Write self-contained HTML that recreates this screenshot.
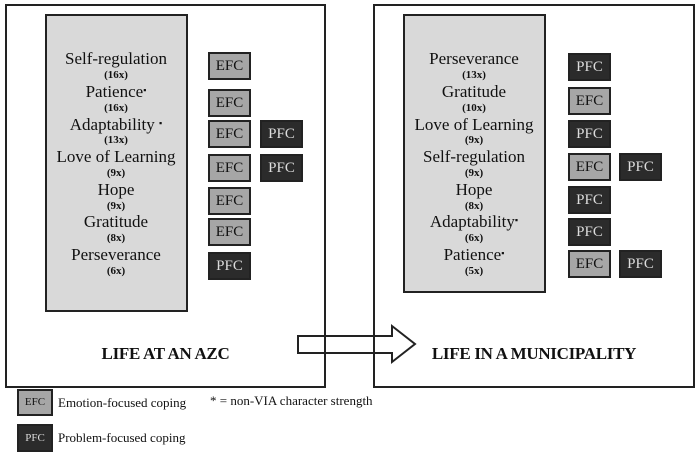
<!DOCTYPE html>
<html><head><style>
body{margin:0;width:697px;height:454px;background:#fff;position:relative;overflow:hidden;font-family:"Liberation Serif",serif;color:#111}
div{position:absolute;box-sizing:border-box}
.panel{border:2px solid #222;background:#fff}
.gray{background:#d9d9d9;border:2px solid #222}
.b{width:43px;height:28px;border:2px solid #222;font-size:15px;line-height:24px;text-align:center}
.e{background:#a6a6a6;color:#111}
.p{background:#2b2b2b;color:#ddd}
.n{width:160px;text-align:center;font-size:17px;line-height:18px;white-space:nowrap}
.c{width:160px;text-align:center;font-size:11px;font-weight:bold;line-height:12px}
.t{font-size:17px;font-weight:bold;text-align:center;letter-spacing:-0.3px}
.lg{font-size:13px}
.s{font-size:9px;line-height:0;position:relative;top:-4px}
</style></head><body>
<div class="panel" style="left:5px;top:4px;width:321px;height:384px"></div>
<div class="panel" style="left:373px;top:4px;width:322px;height:384px"></div>
<div class="gray" style="left:45px;top:14px;width:143px;height:298px"></div>
<div class="gray" style="left:403px;top:14px;width:143px;height:279px"></div>

<div class="n" style="left:36px;top:50px">Self-regulation</div><div class="c" style="left:36px;top:69px">(16x)</div>
<div class="n" style="left:36px;top:83px">Patience<span class="s">▪</span></div><div class="c" style="left:36px;top:102px">(16x)</div>
<div class="n" style="left:36px;top:116px">Adaptability <span class="s">▪</span></div><div class="c" style="left:36px;top:134px">(13x)</div>
<div class="n" style="left:36px;top:148px">Love of Learning</div><div class="c" style="left:36px;top:167px">(9x)</div>
<div class="n" style="left:36px;top:181px">Hope</div><div class="c" style="left:36px;top:200px">(9x)</div>
<div class="n" style="left:36px;top:213px">Gratitude</div><div class="c" style="left:36px;top:232px">(8x)</div>
<div class="n" style="left:36px;top:246px">Perseverance</div><div class="c" style="left:36px;top:265px">(6x)</div>

<div class="b e" style="left:208px;top:52px">EFC</div>
<div class="b e" style="left:208px;top:89px">EFC</div>
<div class="b e" style="left:208px;top:120px">EFC</div><div class="b p" style="left:260px;top:120px">PFC</div>
<div class="b e" style="left:208px;top:154px">EFC</div><div class="b p" style="left:260px;top:154px">PFC</div>
<div class="b e" style="left:208px;top:187px">EFC</div>
<div class="b e" style="left:208px;top:218px">EFC</div>
<div class="b p" style="left:208px;top:252px">PFC</div>

<div class="n" style="left:394px;top:50px">Perseverance</div><div class="c" style="left:394px;top:69px">(13x)</div>
<div class="n" style="left:394px;top:83px">Gratitude</div><div class="c" style="left:394px;top:102px">(10x)</div>
<div class="n" style="left:394px;top:116px">Love of Learning</div><div class="c" style="left:394px;top:134px">(9x)</div>
<div class="n" style="left:394px;top:148px">Self-regulation</div><div class="c" style="left:394px;top:167px">(9x)</div>
<div class="n" style="left:394px;top:181px">Hope</div><div class="c" style="left:394px;top:200px">(8x)</div>
<div class="n" style="left:394px;top:213px">Adaptability<span class="s">▪</span></div><div class="c" style="left:394px;top:232px">(6x)</div>
<div class="n" style="left:394px;top:246px">Patience<span class="s">▪</span></div><div class="c" style="left:394px;top:265px">(5x)</div>

<div class="b p" style="left:568px;top:53px">PFC</div>
<div class="b e" style="left:568px;top:87px">EFC</div>
<div class="b p" style="left:568px;top:120px">PFC</div>
<div class="b e" style="left:568px;top:153px">EFC</div><div class="b p" style="left:619px;top:153px">PFC</div>
<div class="b p" style="left:568px;top:186px">PFC</div>
<div class="b p" style="left:568px;top:218px">PFC</div>
<div class="b e" style="left:568px;top:250px">EFC</div><div class="b p" style="left:619px;top:250px">PFC</div>

<div class="t" style="left:5px;top:344px;width:321px">LIFE AT AN AZC</div>
<div class="t" style="left:373px;top:344px;width:322px">LIFE IN A MUNICIPALITY</div>

<svg style="position:absolute;left:0;top:0" width="697" height="454">
<polygon points="298,336 392,336 392,326 415,344 392,362 392,353 298,353" fill="#fff" stroke="#222" stroke-width="2"/>
<line x1="325" y1="336" x2="325" y2="353" stroke="#222" stroke-width="2"/>
<line x1="374" y1="336" x2="374" y2="353" stroke="#222" stroke-width="2"/>
</svg>

<div class="b e" style="left:17px;top:389px;width:36px;height:27px;font-size:11px;line-height:23px">EFC</div>
<div class="lg" style="left:58px;top:395px">Emotion-focused coping</div>
<div class="lg" style="left:210px;top:393px">* = non-VIA character strength</div>
<div class="b p" style="left:17px;top:424px;width:36px;height:28px;font-size:11px;line-height:24px">PFC</div>
<div class="lg" style="left:58px;top:430px">Problem-focused coping</div>
</body></html>
